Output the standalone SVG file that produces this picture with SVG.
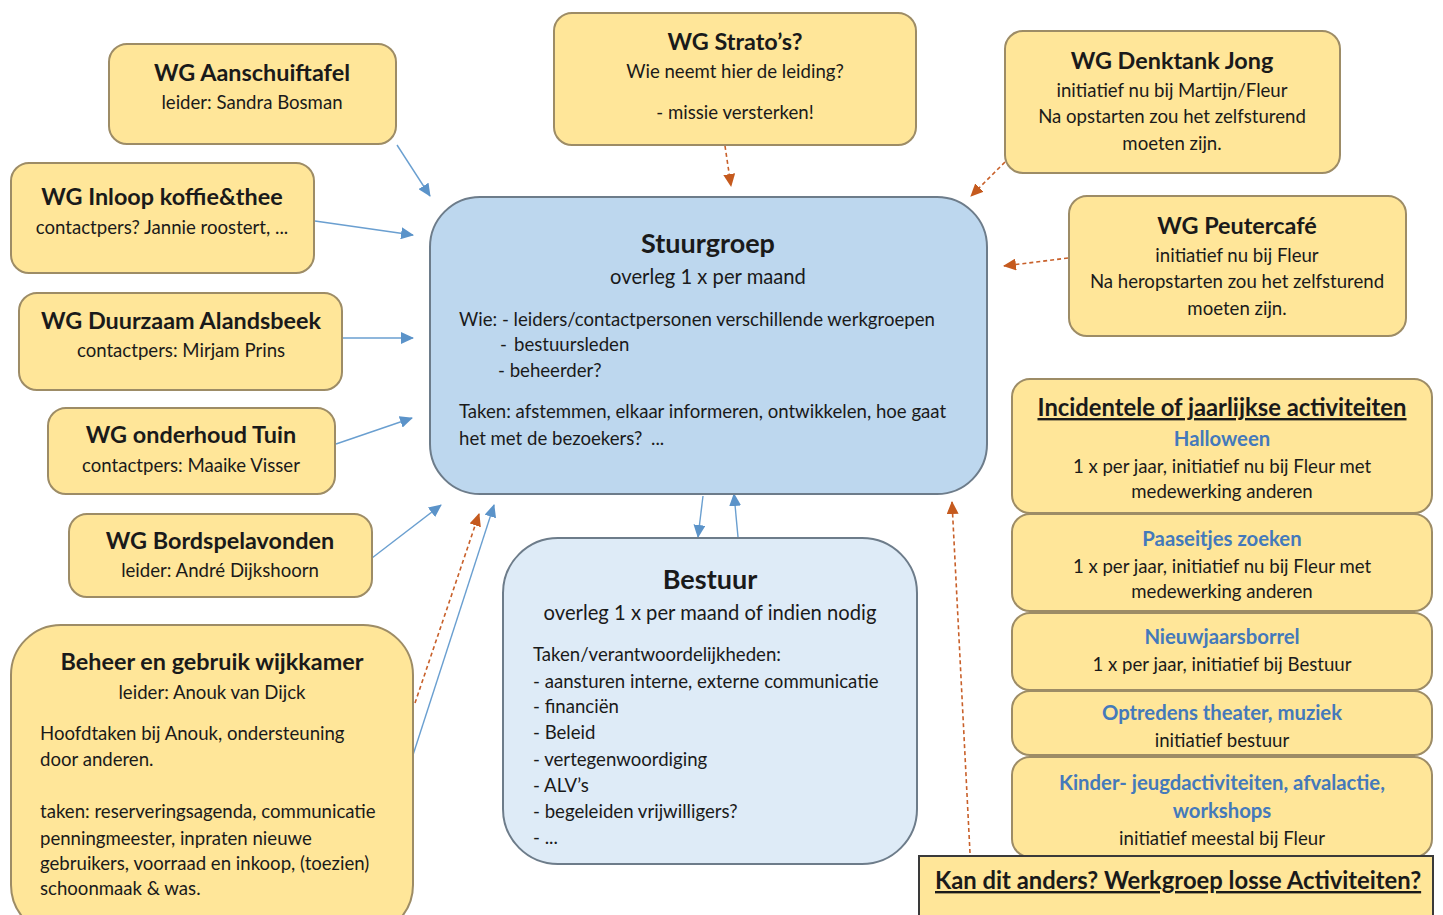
<svg xmlns="http://www.w3.org/2000/svg" width="1443" height="915" viewBox="0 0 1443 915">
<defs>
<style>
text{font-family:Lato,"Open Sans","Liberation Sans",sans-serif;fill:#1a1a1a;font-size:18.6px}
.t{font-weight:bold;font-size:23.4px;text-anchor:middle}
.h{font-weight:bold;font-size:27px;text-anchor:middle}
.o{font-size:20.2px;text-anchor:middle}
.c{text-anchor:middle}
.b{font-weight:bold;fill:#4479bb;text-anchor:middle;font-size:20.3px}
.u{text-decoration:underline;font-weight:bold;font-size:23.8px}
.y{fill:#FFE699;stroke:#9d8c66;stroke-width:2}
.s{fill:#BDD7EE;stroke:#6d7c8a;stroke-width:2}
.e{fill:#DEEBF7;stroke:#6d7c8a;stroke-width:2}
.ab{stroke:#6a9fd0;stroke-width:1.4;fill:none}
.ao{stroke:#c8602a;stroke-width:1.6;fill:none;stroke-dasharray:4 3}
</style>
<marker id="mb" markerWidth="14" markerHeight="12" refX="12" refY="6" orient="auto" markerUnits="userSpaceOnUse"><path d="M0,0 L13,6 L0,12 Z" fill="#5b93c9"/></marker>
<marker id="mo" markerWidth="14" markerHeight="12" refX="12" refY="6" orient="auto" markerUnits="userSpaceOnUse"><path d="M0,0 L13,6 L0,12 Z" fill="#c55a1e"/></marker>
</defs>
<rect width="1443" height="915" fill="#ffffff"/>

<g id="connectors">
<line class="ab" x1="397" y1="145" x2="430" y2="196" marker-end="url(#mb)"/>
<line class="ab" x1="315" y1="221" x2="413" y2="235" marker-end="url(#mb)"/>
<line class="ab" x1="343" y1="338" x2="413" y2="338" marker-end="url(#mb)"/>
<line class="ab" x1="336" y1="444" x2="412" y2="418" marker-end="url(#mb)"/>
<line class="ab" x1="372" y1="558" x2="441" y2="505" marker-end="url(#mb)"/>
<line class="ab" x1="413" y1="755" x2="494" y2="505" marker-end="url(#mb)"/>
<line class="ao" x1="415" y1="703" x2="479" y2="514" marker-end="url(#mo)"/>
<line class="ao" x1="725" y1="146" x2="731" y2="186" marker-end="url(#mo)"/>
<line class="ao" x1="1005" y1="162" x2="971" y2="196" marker-end="url(#mo)"/>
<line class="ao" x1="1068" y1="258" x2="1004" y2="266" marker-end="url(#mo)"/>
<line class="ab" x1="703" y1="496" x2="698" y2="537" marker-end="url(#mb)"/>
<line class="ab" x1="738" y1="537" x2="734" y2="494" marker-end="url(#mb)"/>
<line class="ao" x1="970" y1="853" x2="952" y2="502" stroke-dasharray="2 2.5" marker-end="url(#mo)"/>
</g>

<g id="aanschuiftafel">
<rect class="y" x="109" y="44" width="287" height="100" rx="18"/>
<text class="t" x="252" y="81">WG Aanschuiftafel</text>
<text class="c" x="252" y="109">leider: Sandra Bosman</text>
</g>

<g id="stratos">
<rect class="y" x="554" y="13" width="362" height="132" rx="18"/>
<text class="t" x="735" y="50">WG Strato’s?</text>
<text class="c" x="735" y="78">Wie neemt hier de leiding?</text>
<text class="c" x="735" y="119">- missie versterken!</text>
</g>

<g id="denktank">
<rect class="y" x="1005" y="31" width="335" height="142" rx="18"/>
<text class="t" x="1172" y="69">WG Denktank Jong</text>
<text class="c" x="1172" y="97">initiatief nu bij Martijn/Fleur</text>
<text class="c" x="1172" y="123">Na opstarten zou het zelfsturend</text>
<text class="c" x="1172" y="150">moeten zijn.</text>
</g>

<g id="inloop">
<rect class="y" x="11" y="163" width="303" height="110" rx="18"/>
<text class="t" x="162" y="205">WG Inloop koffie&amp;thee</text>
<text class="c" x="162" y="234">contactpers? Jannie roostert, ...</text>
</g>

<g id="peutercafe">
<rect class="y" x="1069" y="196" width="337" height="140" rx="18"/>
<text class="t" x="1237" y="234">WG Peutercafé</text>
<text class="c" x="1237" y="262">initiatief nu bij Fleur</text>
<text class="c" x="1237" y="288">Na heropstarten zou het zelfsturend</text>
<text class="c" x="1237" y="315">moeten zijn.</text>
</g>

<g id="stuurgroep">
<rect class="s" x="430" y="197" width="557" height="297" rx="50"/>
<text class="h" x="708" y="253">Stuurgroep</text>
<text class="o" x="708" y="284">overleg 1 x per maand</text>
<text x="459" y="326">Wie: - leiders/contactpersonen verschillende werkgroepen</text>
<text x="500" y="351">-<tspan x="514">bestuursleden</tspan></text>
<text x="498" y="377">- beheerder?</text>
<text x="459" y="418">Taken: afstemmen, elkaar informeren, ontwikkelen, hoe gaat</text>
<text x="459" y="445">het met de bezoekers?<tspan x="651">...</tspan></text>
</g>

<g id="duurzaam">
<rect class="y" x="19" y="293" width="323" height="97" rx="18"/>
<text class="t" x="181" y="329">WG Duurzaam Alandsbeek</text>
<text class="c" x="181" y="357">contactpers: Mirjam Prins</text>
</g>

<g id="tuin">
<rect class="y" x="48" y="408" width="287" height="86" rx="18"/>
<text class="t" x="191" y="443">WG onderhoud Tuin</text>
<text class="c" x="191" y="472">contactpers: Maaike Visser</text>
</g>

<g id="bordspel">
<rect class="y" x="69" y="514" width="303" height="83" rx="18"/>
<text class="t" x="220" y="549">WG Bordspelavonden</text>
<text class="c" x="220" y="577">leider: André Dijkshoorn</text>
</g>

<g id="beheer">
<rect class="y" x="11" y="625" width="402" height="310" rx="50"/>
<text class="t" x="212" y="670">Beheer en gebruik wijkkamer</text>
<text class="c" x="212" y="699">leider: Anouk van Dijck</text>
<text x="40" y="740">Hoofdtaken bij Anouk, ondersteuning</text>
<text x="40" y="766">door anderen.</text>
<text x="40" y="818">taken: reserveringsagenda, communicatie</text>
<text x="40" y="845">penningmeester, inpraten nieuwe</text>
<text x="40" y="870">gebruikers, voorraad en inkoop, (toezien)</text>
<text x="40" y="895">schoonmaak &amp; was.</text>
</g>

<g id="bestuur">
<rect class="e" x="503" y="538" width="414" height="326" rx="55"/>
<text class="h" x="710" y="589">Bestuur</text>
<text class="o" x="710" y="620">overleg 1 x per maand of indien nodig</text>
<text x="533" y="661">Taken/verantwoordelijkheden:</text>
<text x="533" y="688">- aansturen interne, externe communicatie</text>
<text x="533" y="713">- financiën</text>
<text x="533" y="739">- Beleid</text>
<text x="533" y="766">- vertegenwoordiging</text>
<text x="533" y="792">- ALV’s</text>
<text x="533" y="818">- begeleiden vrijwilligers?</text>
<text x="533" y="844">- ...</text>
</g>

<g id="incidenteel">
<rect class="y" x="1012" y="379" width="420" height="134" rx="18"/>
<text class="u" x="1222" y="416" text-anchor="middle">Incidentele of jaarlijkse activiteiten</text>
<text class="b" x="1222" y="446">Halloween</text>
<text class="c" x="1222" y="473">1 x per jaar, initiatief nu bij Fleur met</text>
<text class="c" x="1222" y="498">medewerking anderen</text>
</g>

<g id="paaseitjes">
<rect class="y" x="1012" y="514" width="420" height="97" rx="18"/>
<text class="b" x="1222" y="546">Paaseitjes zoeken</text>
<text class="c" x="1222" y="573">1 x per jaar, initiatief nu bij Fleur met</text>
<text class="c" x="1222" y="598">medewerking anderen</text>
</g>

<g id="nieuwjaarsborrel">
<rect class="y" x="1012" y="613" width="420" height="77" rx="18"/>
<text class="b" x="1222" y="644">Nieuwjaarsborrel</text>
<text class="c" x="1222" y="671">1 x per jaar, initiatief bij Bestuur</text>
</g>

<g id="optredens">
<rect class="y" x="1012" y="691" width="420" height="64" rx="18"/>
<text class="b" x="1222" y="720">Optredens theater, muziek</text>
<text class="c" x="1222" y="747">initiatief bestuur</text>
</g>

<g id="kinder">
<rect class="y" x="1012" y="757" width="420" height="100" rx="18"/>
<text class="b" x="1222" y="790">Kinder- jeugdactiviteiten, afvalactie,</text>
<text class="b" x="1222" y="818">workshops</text>
<text class="c" x="1222" y="845">initiatief meestal bij Fleur</text>
</g>

<g id="losse-activiteiten">
<rect x="919" y="856" width="514" height="80" fill="#FFE699" stroke="#3a3a3a" stroke-width="2"/>
<text class="u" x="935" y="889">Kan dit anders? Werkgroep losse Activiteiten?</text>
</g>
</svg>
